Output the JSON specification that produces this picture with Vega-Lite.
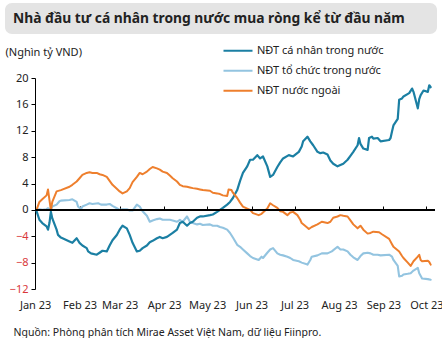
{
  "$schema": "https://vega.github.io/schema/vega-lite/v6.json",
  "padding": {"left": 5, "top": 3, "right": 0, "bottom": 0},
  "spacing": 7,
  "resolve": {"legend": {"color": "independent", "strokeWidth": "independent"}},
  "config": {
    "font": "Noto Sans",
    "view": {"stroke": null},
    "axis": {"grid": false},
    "axisY": {"labelOverlap": false}
  },
  "vconcat": [
    {
      "width": 432,
      "height": 31,
      "title": {
        "text": "Nhà đầu tư cá nhân trong nước mua ròng kể từ đầu năm",
        "anchor": "start",
        "frame": "group",
        "orient": "top",
        "offset": -30,
        "dx": 8,
        "baseline": "middle",
        "fontSize": 13.8,
        "fontWeight": "bold",
        "color": "#222222"
      },
      "data": {"values": [{}]},
      "mark": {"type": "rect", "color": "#e4e4e4", "cornerRadius": 7},
      "encoding": {}
    },
    {
      "width": 430,
      "height": 211,
      "data": {
        "values": [
          {"series": "NĐT tổ chức trong nước", "date": "2023-01-02", "value": 0.0},
          {"series": "NĐT tổ chức trong nước", "date": "2023-01-04", "value": 0.1},
          {"series": "NĐT tổ chức trong nước", "date": "2023-01-06", "value": 0.0},
          {"series": "NĐT tổ chức trong nước", "date": "2023-01-09", "value": 0.1},
          {"series": "NĐT tổ chức trong nước", "date": "2023-01-10", "value": 0.25},
          {"series": "NĐT tổ chức trong nước", "date": "2023-01-12", "value": 0.0},
          {"series": "NĐT tổ chức trong nước", "date": "2023-01-13", "value": 0.5},
          {"series": "NĐT tổ chức trong nước", "date": "2023-01-16", "value": 0.8},
          {"series": "NĐT tổ chức trong nước", "date": "2023-01-18", "value": 1.3},
          {"series": "NĐT tổ chức trong nước", "date": "2023-01-19", "value": 1.4},
          {"series": "NĐT tổ chức trong nước", "date": "2023-01-25", "value": 1.5},
          {"series": "NĐT tổ chức trong nước", "date": "2023-01-27", "value": 1.6},
          {"series": "NĐT tổ chức trong nước", "date": "2023-01-30", "value": 1.2},
          {"series": "NĐT tổ chức trong nước", "date": "2023-01-31", "value": 0.5},
          {"series": "NĐT tổ chức trong nước", "date": "2023-02-02", "value": 0.1},
          {"series": "NĐT tổ chức trong nước", "date": "2023-02-03", "value": 0.5},
          {"series": "NĐT tổ chức trong nước", "date": "2023-02-06", "value": 0.8},
          {"series": "NĐT tổ chức trong nước", "date": "2023-02-08", "value": 1.0},
          {"series": "NĐT tổ chức trong nước", "date": "2023-02-10", "value": 0.9},
          {"series": "NĐT tổ chức trong nước", "date": "2023-02-14", "value": 1.0},
          {"series": "NĐT tổ chức trong nước", "date": "2023-02-16", "value": 0.8},
          {"series": "NĐT tổ chức trong nước", "date": "2023-02-20", "value": 0.8},
          {"series": "NĐT tổ chức trong nước", "date": "2023-02-22", "value": 0.9},
          {"series": "NĐT tổ chức trong nước", "date": "2023-02-24", "value": 0.6},
          {"series": "NĐT tổ chức trong nước", "date": "2023-02-27", "value": 0.25},
          {"series": "NĐT tổ chức trong nước", "date": "2023-03-01", "value": 0.0},
          {"series": "NĐT tổ chức trong nước", "date": "2023-03-03", "value": 0.1},
          {"series": "NĐT tổ chức trong nước", "date": "2023-03-06", "value": 0.1},
          {"series": "NĐT tổ chức trong nước", "date": "2023-03-08", "value": -0.1},
          {"series": "NĐT tổ chức trong nước", "date": "2023-03-10", "value": -0.1},
          {"series": "NĐT tổ chức trong nước", "date": "2023-03-13", "value": 0.8},
          {"series": "NĐT tổ chức trong nước", "date": "2023-03-15", "value": 0.5},
          {"series": "NĐT tổ chức trong nước", "date": "2023-03-17", "value": -0.2},
          {"series": "NĐT tổ chức trong nước", "date": "2023-03-20", "value": -0.9},
          {"series": "NĐT tổ chức trong nước", "date": "2023-03-22", "value": -1.8},
          {"series": "NĐT tổ chức trong nước", "date": "2023-03-24", "value": -1.6},
          {"series": "NĐT tổ chức trong nước", "date": "2023-03-27", "value": -1.4},
          {"series": "NĐT tổ chức trong nước", "date": "2023-03-29", "value": -1.3},
          {"series": "NĐT tổ chức trong nước", "date": "2023-03-31", "value": -1.5},
          {"series": "NĐT tổ chức trong nước", "date": "2023-04-03", "value": -1.5},
          {"series": "NĐT tổ chức trong nước", "date": "2023-04-05", "value": -1.5},
          {"series": "NĐT tổ chức trong nước", "date": "2023-04-07", "value": -1.6},
          {"series": "NĐT tổ chức trong nước", "date": "2023-04-10", "value": -1.8},
          {"series": "NĐT tổ chức trong nước", "date": "2023-04-12", "value": -1.5},
          {"series": "NĐT tổ chức trong nước", "date": "2023-04-14", "value": -1.8},
          {"series": "NĐT tổ chức trong nước", "date": "2023-04-17", "value": -1.0},
          {"series": "NĐT tổ chức trong nước", "date": "2023-04-19", "value": -1.8},
          {"series": "NĐT tổ chức trong nước", "date": "2023-04-21", "value": -2.0},
          {"series": "NĐT tổ chức trong nước", "date": "2023-04-24", "value": -2.2},
          {"series": "NĐT tổ chức trong nước", "date": "2023-04-26", "value": -2.1},
          {"series": "NĐT tổ chức trong nước", "date": "2023-04-28", "value": -2.3},
          {"series": "NĐT tổ chức trong nước", "date": "2023-05-03", "value": -2.2},
          {"series": "NĐT tổ chức trong nước", "date": "2023-05-05", "value": -2.4},
          {"series": "NĐT tổ chức trong nước", "date": "2023-05-08", "value": -2.4},
          {"series": "NĐT tổ chức trong nước", "date": "2023-05-10", "value": -2.6},
          {"series": "NĐT tổ chức trong nước", "date": "2023-05-12", "value": -2.7},
          {"series": "NĐT tổ chức trong nước", "date": "2023-05-15", "value": -3.0},
          {"series": "NĐT tổ chức trong nước", "date": "2023-05-17", "value": -3.5},
          {"series": "NĐT tổ chức trong nước", "date": "2023-05-19", "value": -4.2},
          {"series": "NĐT tổ chức trong nước", "date": "2023-05-22", "value": -5.3},
          {"series": "NĐT tổ chức trong nước", "date": "2023-05-24", "value": -5.6},
          {"series": "NĐT tổ chức trong nước", "date": "2023-05-26", "value": -6.0},
          {"series": "NĐT tổ chức trong nước", "date": "2023-05-29", "value": -6.6},
          {"series": "NĐT tổ chức trong nước", "date": "2023-05-31", "value": -7.0},
          {"series": "NĐT tổ chức trong nước", "date": "2023-06-02", "value": -7.3},
          {"series": "NĐT tổ chức trong nước", "date": "2023-06-06", "value": -7.6},
          {"series": "NĐT tổ chức trong nước", "date": "2023-06-08", "value": -7.1},
          {"series": "NĐT tổ chức trong nước", "date": "2023-06-09", "value": -7.3},
          {"series": "NĐT tổ chức trong nước", "date": "2023-06-12", "value": -6.5},
          {"series": "NĐT tổ chức trong nước", "date": "2023-06-14", "value": -6.0},
          {"series": "NĐT tổ chức trong nước", "date": "2023-06-16", "value": -5.8},
          {"series": "NĐT tổ chức trong nước", "date": "2023-06-19", "value": -6.6},
          {"series": "NĐT tổ chức trong nước", "date": "2023-06-21", "value": -6.8},
          {"series": "NĐT tổ chức trong nước", "date": "2023-06-23", "value": -6.9},
          {"series": "NĐT tổ chức trong nước", "date": "2023-06-26", "value": -7.1},
          {"series": "NĐT tổ chức trong nước", "date": "2023-06-28", "value": -7.3},
          {"series": "NĐT tổ chức trong nước", "date": "2023-06-30", "value": -7.6},
          {"series": "NĐT tổ chức trong nước", "date": "2023-07-04", "value": -7.8},
          {"series": "NĐT tổ chức trong nước", "date": "2023-07-06", "value": -8.0},
          {"series": "NĐT tổ chức trong nước", "date": "2023-07-10", "value": -8.3},
          {"series": "NĐT tổ chức trong nước", "date": "2023-07-12", "value": -7.6},
          {"series": "NĐT tổ chức trong nước", "date": "2023-07-13", "value": -7.1},
          {"series": "NĐT tổ chức trong nước", "date": "2023-07-17", "value": -6.9},
          {"series": "NĐT tổ chức trong nước", "date": "2023-07-20", "value": -6.6},
          {"series": "NĐT tổ chức trong nước", "date": "2023-07-24", "value": -6.6},
          {"series": "NĐT tổ chức trong nước", "date": "2023-07-27", "value": -6.3},
          {"series": "NĐT tổ chức trong nước", "date": "2023-07-31", "value": -5.6},
          {"series": "NĐT tổ chức trong nước", "date": "2023-08-02", "value": -6.0},
          {"series": "NĐT tổ chức trong nước", "date": "2023-08-04", "value": -6.0},
          {"series": "NĐT tổ chức trong nước", "date": "2023-08-07", "value": -6.3},
          {"series": "NĐT tổ chức trong nước", "date": "2023-08-09", "value": -6.8},
          {"series": "NĐT tổ chức trong nước", "date": "2023-08-11", "value": -7.2},
          {"series": "NĐT tổ chức trong nước", "date": "2023-08-14", "value": -7.6},
          {"series": "NĐT tổ chức trong nước", "date": "2023-08-16", "value": -7.0},
          {"series": "NĐT tổ chức trong nước", "date": "2023-08-18", "value": -6.6},
          {"series": "NĐT tổ chức trong nước", "date": "2023-08-21", "value": -6.5},
          {"series": "NĐT tổ chức trong nước", "date": "2023-08-23", "value": -6.6},
          {"series": "NĐT tổ chức trong nước", "date": "2023-08-25", "value": -6.8},
          {"series": "NĐT tổ chức trong nước", "date": "2023-08-28", "value": -6.8},
          {"series": "NĐT tổ chức trong nước", "date": "2023-08-30", "value": -6.9},
          {"series": "NĐT tổ chức trong nước", "date": "2023-09-05", "value": -6.8},
          {"series": "NĐT tổ chức trong nước", "date": "2023-09-07", "value": -7.1},
          {"series": "NĐT tổ chức trong nước", "date": "2023-09-08", "value": -7.6},
          {"series": "NĐT tổ chức trong nước", "date": "2023-09-11", "value": -8.5},
          {"series": "NĐT tổ chức trong nước", "date": "2023-09-12", "value": -10.1},
          {"series": "NĐT tổ chức trong nước", "date": "2023-09-14", "value": -10.0},
          {"series": "NĐT tổ chức trong nước", "date": "2023-09-15", "value": -9.8},
          {"series": "NĐT tổ chức trong nước", "date": "2023-09-18", "value": -9.7},
          {"series": "NĐT tổ chức trong nước", "date": "2023-09-20", "value": -9.6},
          {"series": "NĐT tổ chức trong nước", "date": "2023-09-22", "value": -9.2},
          {"series": "NĐT tổ chức trong nước", "date": "2023-09-25", "value": -8.8},
          {"series": "NĐT tổ chức trong nước", "date": "2023-09-26", "value": -9.6},
          {"series": "NĐT tổ chức trong nước", "date": "2023-09-28", "value": -10.4},
          {"series": "NĐT tổ chức trong nước", "date": "2023-10-02", "value": -10.5},
          {"series": "NĐT tổ chức trong nước", "date": "2023-10-04", "value": -10.6},

          {"series": "NĐT cá nhân trong nước", "date": "2023-01-02", "value": -0.2},
          {"series": "NĐT cá nhân trong nước", "date": "2023-01-04", "value": -1.5},
          {"series": "NĐT cá nhân trong nước", "date": "2023-01-06", "value": -2.0},
          {"series": "NĐT cá nhân trong nước", "date": "2023-01-09", "value": -2.5},
          {"series": "NĐT cá nhân trong nước", "date": "2023-01-10", "value": -3.0},
          {"series": "NĐT cá nhân trong nước", "date": "2023-01-11", "value": -2.0},
          {"series": "NĐT cá nhân trong nước", "date": "2023-01-12", "value": -0.3},
          {"series": "NĐT cá nhân trong nước", "date": "2023-01-13", "value": -1.3},
          {"series": "NĐT cá nhân trong nước", "date": "2023-01-16", "value": -3.0},
          {"series": "NĐT cá nhân trong nước", "date": "2023-01-17", "value": -3.8},
          {"series": "NĐT cá nhân trong nước", "date": "2023-01-19", "value": -4.2},
          {"series": "NĐT cá nhân trong nước", "date": "2023-01-25", "value": -4.8},
          {"series": "NĐT cá nhân trong nước", "date": "2023-01-27", "value": -5.0},
          {"series": "NĐT cá nhân trong nước", "date": "2023-01-30", "value": -4.3},
          {"series": "NĐT cá nhân trong nước", "date": "2023-02-01", "value": -5.0},
          {"series": "NĐT cá nhân trong nước", "date": "2023-02-03", "value": -5.4},
          {"series": "NĐT cá nhân trong nước", "date": "2023-02-06", "value": -5.8},
          {"series": "NĐT cá nhân trong nước", "date": "2023-02-07", "value": -6.3},
          {"series": "NĐT cá nhân trong nước", "date": "2023-02-09", "value": -6.6},
          {"series": "NĐT cá nhân trong nước", "date": "2023-02-13", "value": -6.8},
          {"series": "NĐT cá nhân trong nước", "date": "2023-02-15", "value": -6.5},
          {"series": "NĐT cá nhân trong nước", "date": "2023-02-17", "value": -6.2},
          {"series": "NĐT cá nhân trong nước", "date": "2023-02-20", "value": -6.3},
          {"series": "NĐT cá nhân trong nước", "date": "2023-02-22", "value": -5.4},
          {"series": "NĐT cá nhân trong nước", "date": "2023-02-24", "value": -4.6},
          {"series": "NĐT cá nhân trong nước", "date": "2023-02-27", "value": -3.8},
          {"series": "NĐT cá nhân trong nước", "date": "2023-03-01", "value": -3.0},
          {"series": "NĐT cá nhân trong nước", "date": "2023-03-03", "value": -2.4},
          {"series": "NĐT cá nhân trong nước", "date": "2023-03-06", "value": -2.8},
          {"series": "NĐT cá nhân trong nước", "date": "2023-03-08", "value": -3.8},
          {"series": "NĐT cá nhân trong nước", "date": "2023-03-10", "value": -5.0},
          {"series": "NĐT cá nhân trong nước", "date": "2023-03-13", "value": -6.3},
          {"series": "NĐT cá nhân trong nước", "date": "2023-03-15", "value": -6.2},
          {"series": "NĐT cá nhân trong nước", "date": "2023-03-17", "value": -5.8},
          {"series": "NĐT cá nhân trong nước", "date": "2023-03-20", "value": -5.4},
          {"series": "NĐT cá nhân trong nước", "date": "2023-03-22", "value": -4.9},
          {"series": "NĐT cá nhân trong nước", "date": "2023-03-24", "value": -4.7},
          {"series": "NĐT cá nhân trong nước", "date": "2023-03-27", "value": -4.3},
          {"series": "NĐT cá nhân trong nước", "date": "2023-03-29", "value": -4.1},
          {"series": "NĐT cá nhân trong nước", "date": "2023-03-31", "value": -4.3},
          {"series": "NĐT cá nhân trong nước", "date": "2023-04-03", "value": -4.1},
          {"series": "NĐT cá nhân trong nước", "date": "2023-04-05", "value": -3.8},
          {"series": "NĐT cá nhân trong nước", "date": "2023-04-07", "value": -3.5},
          {"series": "NĐT cá nhân trong nước", "date": "2023-04-10", "value": -3.0},
          {"series": "NĐT cá nhân trong nước", "date": "2023-04-12", "value": -2.0},
          {"series": "NĐT cá nhân trong nước", "date": "2023-04-14", "value": -1.8},
          {"series": "NĐT cá nhân trong nước", "date": "2023-04-17", "value": -2.4},
          {"series": "NĐT cá nhân trong nước", "date": "2023-04-19", "value": -2.0},
          {"series": "NĐT cá nhân trong nước", "date": "2023-04-21", "value": -1.8},
          {"series": "NĐT cá nhân trong nước", "date": "2023-04-24", "value": -1.2},
          {"series": "NĐT cá nhân trong nước", "date": "2023-04-26", "value": -1.0},
          {"series": "NĐT cá nhân trong nước", "date": "2023-04-28", "value": -1.0},
          {"series": "NĐT cá nhân trong nước", "date": "2023-05-03", "value": -0.8},
          {"series": "NĐT cá nhân trong nước", "date": "2023-05-05", "value": -0.7},
          {"series": "NĐT cá nhân trong nước", "date": "2023-05-08", "value": -0.3},
          {"series": "NĐT cá nhân trong nước", "date": "2023-05-10", "value": 0.0},
          {"series": "NĐT cá nhân trong nước", "date": "2023-05-12", "value": 0.3},
          {"series": "NĐT cá nhân trong nước", "date": "2023-05-15", "value": 0.8},
          {"series": "NĐT cá nhân trong nước", "date": "2023-05-17", "value": 1.2},
          {"series": "NĐT cá nhân trong nước", "date": "2023-05-19", "value": 1.8},
          {"series": "NĐT cá nhân trong nước", "date": "2023-05-22", "value": 3.0},
          {"series": "NĐT cá nhân trong nước", "date": "2023-05-24", "value": 4.4},
          {"series": "NĐT cá nhân trong nước", "date": "2023-05-26", "value": 5.6},
          {"series": "NĐT cá nhân trong nước", "date": "2023-05-29", "value": 6.6},
          {"series": "NĐT cá nhân trong nước", "date": "2023-05-31", "value": 7.6},
          {"series": "NĐT cá nhân trong nước", "date": "2023-06-02", "value": 7.6},
          {"series": "NĐT cá nhân trong nước", "date": "2023-06-05", "value": 8.3},
          {"series": "NĐT cá nhân trong nước", "date": "2023-06-07", "value": 7.8},
          {"series": "NĐT cá nhân trong nước", "date": "2023-06-09", "value": 8.1},
          {"series": "NĐT cá nhân trong nước", "date": "2023-06-12", "value": 6.6},
          {"series": "NĐT cá nhân trong nước", "date": "2023-06-14", "value": 5.0},
          {"series": "NĐT cá nhân trong nước", "date": "2023-06-16", "value": 5.3},
          {"series": "NĐT cá nhân trong nước", "date": "2023-06-19", "value": 6.5},
          {"series": "NĐT cá nhân trong nước", "date": "2023-06-21", "value": 7.2},
          {"series": "NĐT cá nhân trong nước", "date": "2023-06-23", "value": 7.8},
          {"series": "NĐT cá nhân trong nước", "date": "2023-06-27", "value": 8.3},
          {"series": "NĐT cá nhân trong nước", "date": "2023-06-30", "value": 8.1},
          {"series": "NĐT cá nhân trong nước", "date": "2023-07-04", "value": 8.8},
          {"series": "NĐT cá nhân trong nước", "date": "2023-07-06", "value": 9.6},
          {"series": "NĐT cá nhân trong nước", "date": "2023-07-07", "value": 10.4},
          {"series": "NĐT cá nhân trong nước", "date": "2023-07-10", "value": 11.1},
          {"series": "NĐT cá nhân trong nước", "date": "2023-07-12", "value": 10.4},
          {"series": "NĐT cá nhân trong nước", "date": "2023-07-14", "value": 9.8},
          {"series": "NĐT cá nhân trong nước", "date": "2023-07-17", "value": 8.8},
          {"series": "NĐT cá nhân trong nước", "date": "2023-07-19", "value": 8.6},
          {"series": "NĐT cá nhân trong nước", "date": "2023-07-21", "value": 8.7},
          {"series": "NĐT cá nhân trong nước", "date": "2023-07-24", "value": 8.4},
          {"series": "NĐT cá nhân trong nước", "date": "2023-07-26", "value": 7.5},
          {"series": "NĐT cá nhân trong nước", "date": "2023-07-28", "value": 7.0},
          {"series": "NĐT cá nhân trong nước", "date": "2023-07-31", "value": 6.6},
          {"series": "NĐT cá nhân trong nước", "date": "2023-08-02", "value": 6.8},
          {"series": "NĐT cá nhân trong nước", "date": "2023-08-04", "value": 7.0},
          {"series": "NĐT cá nhân trong nước", "date": "2023-08-07", "value": 7.6},
          {"series": "NĐT cá nhân trong nước", "date": "2023-08-09", "value": 8.2},
          {"series": "NĐT cá nhân trong nước", "date": "2023-08-11", "value": 8.8},
          {"series": "NĐT cá nhân trong nước", "date": "2023-08-14", "value": 9.8},
          {"series": "NĐT cá nhân trong nước", "date": "2023-08-15", "value": 10.9},
          {"series": "NĐT cá nhân trong nước", "date": "2023-08-16", "value": 10.0},
          {"series": "NĐT cá nhân trong nước", "date": "2023-08-18", "value": 9.3},
          {"series": "NĐT cá nhân trong nước", "date": "2023-08-21", "value": 9.1},
          {"series": "NĐT cá nhân trong nước", "date": "2023-08-22", "value": 10.9},
          {"series": "NĐT cá nhân trong nước", "date": "2023-08-24", "value": 11.1},
          {"series": "NĐT cá nhân trong nước", "date": "2023-08-25", "value": 10.8},
          {"series": "NĐT cá nhân trong nước", "date": "2023-08-28", "value": 10.9},
          {"series": "NĐT cá nhân trong nước", "date": "2023-08-30", "value": 10.4},
          {"series": "NĐT cá nhân trong nước", "date": "2023-09-05", "value": 10.6},
          {"series": "NĐT cá nhân trong nước", "date": "2023-09-06", "value": 10.9},
          {"series": "NĐT cá nhân trong nước", "date": "2023-09-07", "value": 11.9},
          {"series": "NĐT cá nhân trong nước", "date": "2023-09-08", "value": 12.8},
          {"series": "NĐT cá nhân trong nước", "date": "2023-09-11", "value": 13.8},
          {"series": "NĐT cá nhân trong nước", "date": "2023-09-12", "value": 16.7},
          {"series": "NĐT cá nhân trong nước", "date": "2023-09-14", "value": 16.9},
          {"series": "NĐT cá nhân trong nước", "date": "2023-09-15", "value": 17.2},
          {"series": "NĐT cá nhân trong nước", "date": "2023-09-19", "value": 17.7},
          {"series": "NĐT cá nhân trong nước", "date": "2023-09-21", "value": 18.4},
          {"series": "NĐT cá nhân trong nước", "date": "2023-09-22", "value": 17.9},
          {"series": "NĐT cá nhân trong nước", "date": "2023-09-25", "value": 15.4},
          {"series": "NĐT cá nhân trong nước", "date": "2023-09-26", "value": 16.8},
          {"series": "NĐT cá nhân trong nước", "date": "2023-09-27", "value": 17.4},
          {"series": "NĐT cá nhân trong nước", "date": "2023-09-29", "value": 18.1},
          {"series": "NĐT cá nhân trong nước", "date": "2023-10-02", "value": 17.9},
          {"series": "NĐT cá nhân trong nước", "date": "2023-10-03", "value": 18.9},
          {"series": "NĐT cá nhân trong nước", "date": "2023-10-04", "value": 18.6},

          {"series": "NĐT nước ngoài", "date": "2023-01-02", "value": 0.0},
          {"series": "NĐT nước ngoài", "date": "2023-01-04", "value": 1.2},
          {"series": "NĐT nước ngoài", "date": "2023-01-06", "value": 1.6},
          {"series": "NĐT nước ngoài", "date": "2023-01-09", "value": 2.2},
          {"series": "NĐT nước ngoài", "date": "2023-01-10", "value": 3.1},
          {"series": "NĐT nước ngoài", "date": "2023-01-11", "value": 1.5},
          {"series": "NĐT nước ngoài", "date": "2023-01-12", "value": 0.0},
          {"series": "NĐT nước ngoài", "date": "2023-01-13", "value": 1.2},
          {"series": "NĐT nước ngoài", "date": "2023-01-16", "value": 2.8},
          {"series": "NĐT nước ngoài", "date": "2023-01-19", "value": 3.0},
          {"series": "NĐT nước ngoài", "date": "2023-01-25", "value": 3.5},
          {"series": "NĐT nước ngoài", "date": "2023-01-27", "value": 3.8},
          {"series": "NĐT nước ngoài", "date": "2023-01-30", "value": 4.3},
          {"series": "NĐT nước ngoài", "date": "2023-02-01", "value": 4.8},
          {"series": "NĐT nước ngoài", "date": "2023-02-03", "value": 5.3},
          {"series": "NĐT nước ngoài", "date": "2023-02-06", "value": 5.6},
          {"series": "NĐT nước ngoài", "date": "2023-02-08", "value": 5.7},
          {"series": "NĐT nước ngoài", "date": "2023-02-10", "value": 5.6},
          {"series": "NĐT nước ngoài", "date": "2023-02-13", "value": 5.6},
          {"series": "NĐT nước ngoài", "date": "2023-02-15", "value": 5.4},
          {"series": "NĐT nước ngoài", "date": "2023-02-17", "value": 5.3},
          {"series": "NĐT nước ngoài", "date": "2023-02-20", "value": 5.0},
          {"series": "NĐT nước ngoài", "date": "2023-02-22", "value": 4.4},
          {"series": "NĐT nước ngoài", "date": "2023-02-24", "value": 3.8},
          {"series": "NĐT nước ngoài", "date": "2023-02-27", "value": 3.2},
          {"series": "NĐT nước ngoài", "date": "2023-03-01", "value": 2.8},
          {"series": "NĐT nước ngoài", "date": "2023-03-03", "value": 2.5},
          {"series": "NĐT nước ngoài", "date": "2023-03-06", "value": 2.8},
          {"series": "NĐT nước ngoài", "date": "2023-03-08", "value": 3.3},
          {"series": "NĐT nước ngoài", "date": "2023-03-10", "value": 4.2},
          {"series": "NĐT nước ngoài", "date": "2023-03-13", "value": 5.0},
          {"series": "NĐT nước ngoài", "date": "2023-03-15", "value": 5.6},
          {"series": "NĐT nước ngoài", "date": "2023-03-17", "value": 5.4},
          {"series": "NĐT nước ngoài", "date": "2023-03-20", "value": 5.8},
          {"series": "NĐT nước ngoài", "date": "2023-03-22", "value": 6.2},
          {"series": "NĐT nước ngoài", "date": "2023-03-24", "value": 6.5},
          {"series": "NĐT nước ngoài", "date": "2023-03-27", "value": 6.3},
          {"series": "NĐT nước ngoài", "date": "2023-03-29", "value": 6.1},
          {"series": "NĐT nước ngoài", "date": "2023-03-31", "value": 5.8},
          {"series": "NĐT nước ngoài", "date": "2023-04-03", "value": 5.6},
          {"series": "NĐT nước ngoài", "date": "2023-04-05", "value": 5.2},
          {"series": "NĐT nước ngoài", "date": "2023-04-07", "value": 4.8},
          {"series": "NĐT nước ngoài", "date": "2023-04-10", "value": 4.3},
          {"series": "NĐT nước ngoài", "date": "2023-04-12", "value": 3.8},
          {"series": "NĐT nước ngoài", "date": "2023-04-14", "value": 3.6},
          {"series": "NĐT nước ngoài", "date": "2023-04-17", "value": 3.5},
          {"series": "NĐT nước ngoài", "date": "2023-04-19", "value": 3.4},
          {"series": "NĐT nước ngoài", "date": "2023-04-21", "value": 3.3},
          {"series": "NĐT nước ngoài", "date": "2023-04-24", "value": 3.2},
          {"series": "NĐT nước ngoài", "date": "2023-04-26", "value": 3.1},
          {"series": "NĐT nước ngoài", "date": "2023-04-28", "value": 3.0},
          {"series": "NĐT nước ngoài", "date": "2023-05-03", "value": 2.9},
          {"series": "NĐT nước ngoài", "date": "2023-05-05", "value": 2.6},
          {"series": "NĐT nước ngoài", "date": "2023-05-08", "value": 2.5},
          {"series": "NĐT nước ngoài", "date": "2023-05-10", "value": 2.4},
          {"series": "NĐT nước ngoài", "date": "2023-05-12", "value": 2.2},
          {"series": "NĐT nước ngoài", "date": "2023-05-15", "value": 2.1},
          {"series": "NĐT nước ngoài", "date": "2023-05-16", "value": 3.1},
          {"series": "NĐT nước ngoài", "date": "2023-05-18", "value": 3.0},
          {"series": "NĐT nước ngoài", "date": "2023-05-19", "value": 2.6},
          {"series": "NĐT nước ngoài", "date": "2023-05-22", "value": 1.8},
          {"series": "NĐT nước ngoài", "date": "2023-05-24", "value": 1.1},
          {"series": "NĐT nước ngoài", "date": "2023-05-26", "value": 0.5},
          {"series": "NĐT nước ngoài", "date": "2023-05-29", "value": 0.2},
          {"series": "NĐT nước ngoài", "date": "2023-05-31", "value": 0.0},
          {"series": "NĐT nước ngoài", "date": "2023-06-02", "value": -0.5},
          {"series": "NĐT nước ngoài", "date": "2023-06-06", "value": -0.8},
          {"series": "NĐT nước ngoài", "date": "2023-06-08", "value": -0.6},
          {"series": "NĐT nước ngoài", "date": "2023-06-12", "value": 0.2},
          {"series": "NĐT nước ngoài", "date": "2023-06-14", "value": 1.0},
          {"series": "NĐT nước ngoài", "date": "2023-06-16", "value": 0.7},
          {"series": "NĐT nước ngoài", "date": "2023-06-19", "value": 0.3},
          {"series": "NĐT nước ngoài", "date": "2023-06-21", "value": -0.2},
          {"series": "NĐT nước ngoài", "date": "2023-06-23", "value": -0.3},
          {"series": "NĐT nước ngoài", "date": "2023-06-26", "value": -0.8},
          {"series": "NĐT nước ngoài", "date": "2023-06-28", "value": -0.4},
          {"series": "NĐT nước ngoài", "date": "2023-06-30", "value": -0.3},
          {"series": "NĐT nước ngoài", "date": "2023-07-03", "value": -0.8},
          {"series": "NĐT nước ngoài", "date": "2023-07-05", "value": -1.5},
          {"series": "NĐT nước ngoài", "date": "2023-07-06", "value": -2.0},
          {"series": "NĐT nước ngoài", "date": "2023-07-10", "value": -2.7},
          {"series": "NĐT nước ngoài", "date": "2023-07-11", "value": -2.9},
          {"series": "NĐT nước ngoài", "date": "2023-07-13", "value": -2.6},
          {"series": "NĐT nước ngoài", "date": "2023-07-17", "value": -2.2},
          {"series": "NĐT nước ngoài", "date": "2023-07-20", "value": -1.8},
          {"series": "NĐT nước ngoài", "date": "2023-07-24", "value": -2.0},
          {"series": "NĐT nước ngoài", "date": "2023-07-26", "value": -1.8},
          {"series": "NĐT nước ngoài", "date": "2023-07-28", "value": -1.2},
          {"series": "NĐT nước ngoài", "date": "2023-07-31", "value": -1.0},
          {"series": "NĐT nước ngoài", "date": "2023-08-02", "value": -0.8},
          {"series": "NĐT nước ngoài", "date": "2023-08-04", "value": -0.9},
          {"series": "NĐT nước ngoài", "date": "2023-08-07", "value": -1.0},
          {"series": "NĐT nước ngoài", "date": "2023-08-09", "value": -1.6},
          {"series": "NĐT nước ngoài", "date": "2023-08-11", "value": -2.2},
          {"series": "NĐT nước ngoài", "date": "2023-08-14", "value": -2.8},
          {"series": "NĐT nước ngoài", "date": "2023-08-16", "value": -2.4},
          {"series": "NĐT nước ngoài", "date": "2023-08-18", "value": -3.0},
          {"series": "NĐT nước ngoài", "date": "2023-08-21", "value": -3.6},
          {"series": "NĐT nước ngoài", "date": "2023-08-23", "value": -3.5},
          {"series": "NĐT nước ngoài", "date": "2023-08-25", "value": -3.3},
          {"series": "NĐT nước ngoài", "date": "2023-08-29", "value": -3.4},
          {"series": "NĐT nước ngoài", "date": "2023-08-31", "value": -3.7},
          {"series": "NĐT nước ngoài", "date": "2023-09-05", "value": -4.4},
          {"series": "NĐT nước ngoài", "date": "2023-09-07", "value": -5.2},
          {"series": "NĐT nước ngoài", "date": "2023-09-08", "value": -5.6},
          {"series": "NĐT nước ngoài", "date": "2023-09-12", "value": -6.3},
          {"series": "NĐT nước ngoài", "date": "2023-09-14", "value": -7.0},
          {"series": "NĐT nước ngoài", "date": "2023-09-15", "value": -7.3},
          {"series": "NĐT nước ngoài", "date": "2023-09-18", "value": -8.0},
          {"series": "NĐT nước ngoài", "date": "2023-09-20", "value": -8.5},
          {"series": "NĐT nước ngoài", "date": "2023-09-22", "value": -7.8},
          {"series": "NĐT nước ngoài", "date": "2023-09-25", "value": -7.1},
          {"series": "NĐT nước ngoài", "date": "2023-09-26", "value": -6.8},
          {"series": "NĐT nước ngoài", "date": "2023-09-27", "value": -7.6},
          {"series": "NĐT nước ngoài", "date": "2023-09-28", "value": -7.8},
          {"series": "NĐT nước ngoài", "date": "2023-10-02", "value": -7.7},
          {"series": "NĐT nước ngoài", "date": "2023-10-03", "value": -7.9},
          {"series": "NĐT nước ngoài", "date": "2023-10-04", "value": -8.3}
        ]
      },
      "layer": [
        {
          "mark": {"type": "line", "strokeJoin": "round", "strokeCap": "round"},
          "encoding": {
            "x": {
              "field": "date",
              "type": "temporal",
              "scale": {"type": "utc", "domain": ["2022-12-11", "2023-10-07"]},
              "axis": {
                "format": "%b %y",
                "tickCount": {"interval": "month", "step": 1},
                "offset": -79,
                "domain": false,
                "ticks": true,
                "tickSize": -4,
                "tickColor": "#000000",
                "labelPadding": 93,
                "labelFlush": false,
                "labelOverlap": false,
                "labelFontSize": 11,
                "labelColor": "#222222",
                "title": "Nguồn: Phòng phân tích Mirae Asset Việt Nam, dữ liệu Fiinpro.",
                "titleX": 8,
                "titleY": 122,
                "titleAlign": "left",
                "titleAnchor": "start",
                "titleBaseline": "middle",
                "titleFontSize": 10.5,
                "titleFontWeight": "normal",
                "titleColor": "#222222"
              }
            },
            "y": {
              "field": "value",
              "type": "quantitative",
              "scale": {"domain": [-12, 20], "nice": false, "zero": false},
              "axis": {
                "values": [-12, -8, -4, 0, 4, 8, 12, 16, 20],
                "tickCount": 12,
                "offset": -30,
                "domainColor": "#000000",
                "tickColor": "#000000",
                "tickSize": 4,
                "labelPadding": 3,
                "labelFontSize": 11,
                "labelOverlap": false,
                "labelColor": {"condition": {"test": "datum.value < 0", "value": "#d9383a"}, "value": "#222222"},
                "title": "(Nghìn tỷ VND)",
                "titleAngle": 0,
                "titleX": -30,
                "titleY": -26,
                "titleAlign": "left",
                "titleBaseline": "middle",
                "titleFontSize": 11,
                "titleFontWeight": "normal",
                "titleColor": "#222222"
              }
            },
            "color": {
              "field": "series",
              "type": "nominal",
              "scale": {
                "domain": ["NĐT cá nhân trong nước", "NĐT tổ chức trong nước", "NĐT nước ngoài"],
                "range": ["#1b7fa3", "#93c4e0", "#ee7f2d"]
              },
              "legend": {
                "title": null,
                "orient": "none",
                "legendX": 217,
                "legendY": -37,
                "symbolType": "stroke",
                "symbolSize": 841,
                "symbolStrokeWidth": 3,
                "labelFontSize": 11,
                "labelColor": "#222222",
                "labelOffset": 3,
                "clipHeight": 19.5,
                "rowPadding": 0
              }
            },
            "strokeWidth": {
              "field": "series",
              "type": "nominal",
              "scale": {
                "domain": ["NĐT cá nhân trong nước", "NĐT tổ chức trong nước", "NĐT nước ngoài"],
                "range": [2.2, 2, 3.5]
              },
              "legend": null
            }
          }
        },
        {
          "mark": {"type": "rule", "color": "#000000", "strokeWidth": 1},
          "encoding": {
            "x": {"datum": {"year": 2023, "month": 1, "date": 1, "utc": true}, "type": "temporal"},
            "x2": {"datum": {"year": 2023, "month": 10, "date": 7, "utc": true}},
            "y": {"datum": 0, "type": "quantitative"}
          }
        }
      ]
    }
  ]
}
